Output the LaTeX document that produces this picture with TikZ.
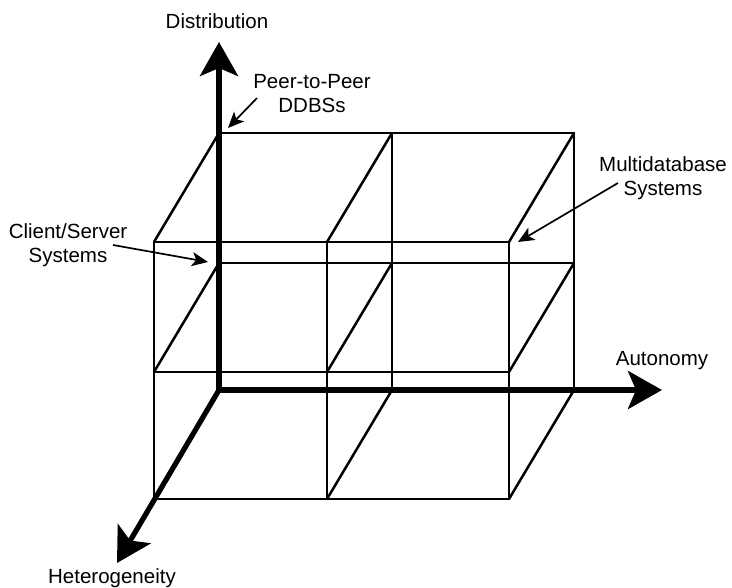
\documentclass[tikz,border=0pt]{standalone}
\usepackage{fontspec}
\setmainfont{Liberation Sans}
\usetikzlibrary{arrows.meta}
\begin{document}
\begin{tikzpicture}[x=1pt,y=-1pt,
  grid/.style={line width=2.5pt, line join=miter},
  axis/.style={line width=5.2pt, line join=miter},
  axishead/.tip={Stealth[length=34pt,width=38pt,inset=8pt]},
  pointer/.style={line width=1.7pt, -{Stealth[length=16pt,width=14pt,inset=4pt]}},
  lbl/.style={inner sep=0pt, font=\fontsize{20.5}{24}\selectfont, align=center}]
\useasboundingbox (0,0) rectangle (732,588);
% back plane corners
\coordinate (O) at (219,390);
\coordinate (B11) at (219,133); \coordinate (B21) at (392,133); \coordinate (B31) at (574,133);
\coordinate (B12) at (219,263); \coordinate (B22) at (392,263); \coordinate (B32) at (574,263);
\coordinate (B23) at (392,390); \coordinate (B33) at (574,390);
% front plane corners
\coordinate (F11) at (154,242); \coordinate (F21) at (327,242); \coordinate (F31) at (509,242);
\coordinate (F12) at (154,372); \coordinate (F22) at (327,372); \coordinate (F32) at (509,372);
\coordinate (F13) at (154,499); \coordinate (F23) at (327,499); \coordinate (F33) at (509,499);
% axis tips
\coordinate (Dtip) at (219,42);
\coordinate (Atip) at (662,390);
\coordinate (Htip) at (117,563);
% front plane
\draw[grid] (F11) -- (F31) -- (F33) -- (F13) -- cycle;
\draw[grid] (F12) -- (F32);
\draw[grid] (F21) -- (F23);
% back plane
\draw[grid] (B11) -- (B31) -- (B33);
\draw[grid] (B12) -- (B32);
\draw[grid] (B21) -- (B23);
% depth edges
\draw[grid] (B11) -- (F11);
\draw[grid] (B21) -- (F21);
\draw[grid] (B31) -- (F31);
\draw[grid] (B12) -- (F12);
\draw[grid] (B22) -- (F22);
\draw[grid] (B32) -- (F32);
\draw[grid] (B23) -- (F23);
\draw[grid] (B33) -- (F33);
% axes
\draw[axis, axishead-axishead] (Dtip) -- (O) -- (Atip);
\draw[axis, -axishead] (O) -- (Htip);
% labels
\node[lbl, anchor=base] (dist) at (217,29) {Distribution};
\node[lbl, anchor=base] (auto) at (662,366) {Autonomy};
\node[lbl, anchor=base] (het) at (112,583) {Heterogeneity};
\node[lbl, anchor=north] (peer) at (312,74) {Peer-to-Peer\\DDBSs};
\node[lbl, anchor=north] (cs) at (68,223) {Client/Server\\Systems};
\node[lbl, anchor=north] (multi) at (663,156) {Multidatabase\\Systems};
% pointers
\coordinate (peerS) at (257,98); \coordinate (peerE) at (228,128);
\coordinate (csS) at (113,245); \coordinate (csE) at (208,262);
\coordinate (mS) at (618,183); \coordinate (mE) at (518,242);
\draw[pointer] (peerS) -- (peerE);
\draw[pointer] (csS) -- (csE);
\draw[pointer] (mS) -- (mE);
\end{tikzpicture}
\end{document}
